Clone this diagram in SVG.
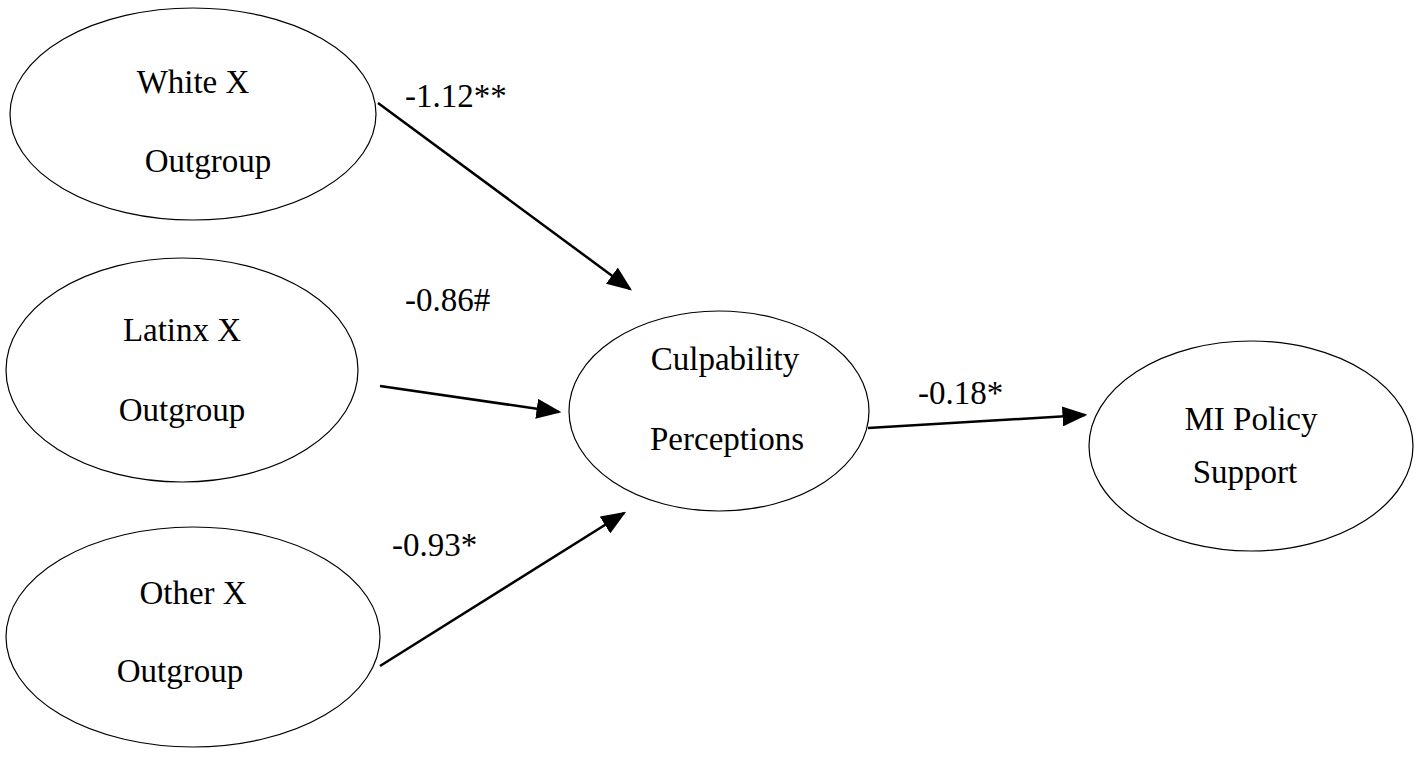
<svg xmlns="http://www.w3.org/2000/svg" width="1417" height="757" viewBox="0 0 1417 757">
<style>
.n{fill:#fff;stroke:#000;stroke-width:1.2}
text{font-family:"Liberation Serif",serif;font-size:33px;fill:#000}
.c{text-anchor:middle}
.e{stroke:#000;stroke-width:2.5;fill:none;marker-end:url(#a)}
</style>
<defs><marker id="a" markerWidth="10" markerHeight="8" refX="9" refY="4" orient="auto" markerUnits="strokeWidth"><path d="M0,0L10,4L0,8z" fill="#000"/></marker></defs>
<rect width="1417" height="757" fill="#fff"/>
<g id="white"><ellipse class="n" cx="193" cy="114" rx="183" ry="106"/><text class="c" x="193" y="93">White X</text><text class="c" x="208" y="172">Outgroup</text></g>
<g id="latinx"><ellipse class="n" cx="182" cy="370" rx="176" ry="112"/><text class="c" x="182" y="341">Latinx X</text><text class="c" x="182" y="421">Outgroup</text></g>
<g id="other"><ellipse class="n" cx="193" cy="637" rx="187" ry="110"/><text class="c" x="193" y="604">Other X</text><text class="c" x="180" y="682">Outgroup</text></g>
<g id="culp"><ellipse class="n" cx="719" cy="411" rx="150" ry="100"/><text class="c" x="725" y="370">Culpability</text><text class="c" x="727" y="450">Perceptions</text></g>
<g id="mi"><ellipse class="n" cx="1251" cy="446" rx="162" ry="105"/><text class="c" x="1251" y="430">MI Policy</text><text class="c" x="1245" y="483">Support</text></g>
<g id="edges">
<line class="e" x1="378" y1="103" x2="630" y2="289"/>
<line class="e" x1="380" y1="386" x2="559" y2="412"/>
<line class="e" x1="380" y1="666" x2="624" y2="513"/>
<line class="e" x1="868" y1="428" x2="1085" y2="415"/>
<text x="405" y="107">-1.12**</text>
<text x="405" y="311">-0.86#</text>
<text x="392" y="556">-0.93*</text>
<text x="918" y="404">-0.18*</text>
</g>
</svg>
